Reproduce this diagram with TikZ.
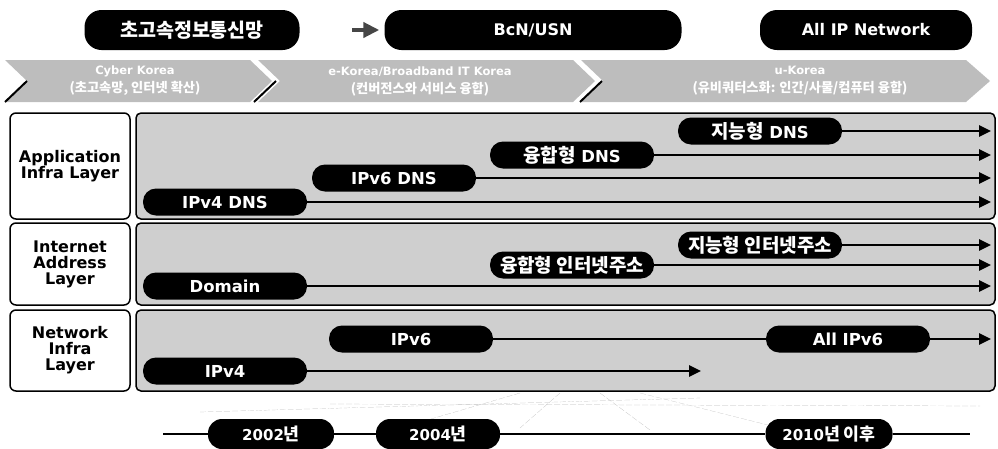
\documentclass[tikz,border=0pt]{standalone}
\usepackage{fontspec}
\setmainfont{DejaVu Sans}
\newfontfamily\kr{Noto Sans CJK KR}[Scale=1.15]
\usetikzlibrary{arrows.meta, positioning, calc}

\begin{document}
\begin{tikzpicture}[
    x=1pt, y=-1pt,
    toppill/.style={rectangle, fill=black, text=white, rounded corners=17pt, minimum height=40pt, font=\fontsize{16}{18}\selectfont\bfseries},
    pill/.style={rectangle, fill=black, text=white, rounded corners=13pt, minimum width=164pt, minimum height=27pt, inner sep=2pt, font=\fontsize{16.5}{18}\selectfont\bfseries},
    yearpill/.style={pill, minimum height=30pt, rounded corners=14pt, font=\fontsize{15}{17}\selectfont\bfseries},
    layerbox/.style={rectangle, draw=black, fill=white, line width=1.5pt, rounded corners=6pt, minimum width=120pt, inner sep=1pt, align=center, font=\fontsize{16}{16}\selectfont\bfseries},
    panelbox/.style={rectangle, draw=black, fill=gray!38, line width=1.5pt, rounded corners=5pt, minimum width=859pt},
    chevron/.style={fill=gray!52},
    chevlabel/.style={text=white, align=center, inner sep=0pt, font=\fontsize{11.5}{18}\selectfont\bfseries},
    flow/.style={line width=2.6pt, -{Triangle[length=12pt, width=11pt]}},
    grid/.style={gray!55, very thin, dash pattern=on 6pt off 2pt}
  ]
  \useasboundingbox (0,0) rectangle (998,448);

  % Top network stages
  \node[toppill, minimum width=215pt] (topKor) at (192,30) {\fontsize{17}{18}\selectfont\kr 초고속정보통신망};
  \node[toppill, minimum width=297pt] (topBcn) at (533,30) {BcN/USN};
  \node[toppill, minimum width=212pt] (topAllIP) at (866,30) {All IP Network};
  \coordinate (arrTail) at (352,30);
  \draw[line width=4pt, gray!55!black, -{Triangle[length=16pt, width=15pt]}] (arrTail) -- ([xshift=-5pt]topBcn.west);

  % Policy chevrons
  \fill[chevron] (5,60) -- (250,60) -- (272,81) -- (250,102) -- (5,102) -- (27,81) -- cycle;
  \fill[chevron] (258,60) -- (573,60) -- (595,81) -- (573,102) -- (258,102) -- (280,81) -- cycle;
  \fill[chevron] (581,60) -- (966,60) -- (990,81) -- (966,102) -- (581,102) -- (603,81) -- cycle;
  \draw[line width=2pt] (5,102) -- (27,81);
  \draw[line width=2pt] (254,102) -- (276,81);
  \draw[line width=2pt] (580,102) -- (602,81);
  \node[chevlabel] (chevOne) at (135,81) {Cyber Korea\\{\kr (초고속망, 인터넷 확산)}};
  \node[chevlabel] (chevTwo) at (420,81) {e-Korea/Broadband IT Korea\\{\kr (컨버전스와 서비스 융합)}};
  \node[chevlabel] (chevThree) at (800,81) {u-Korea\\{\kr (유비쿼터스화: 인간/사물/컴퓨터 융합)}};

  % Layer labels and panels
  \node[layerbox, minimum height=106pt] (labApp) at (70,166) {Application\\Infra Layer};
  \node[layerbox, minimum height=82pt] (labAddr) at (70,264) {Internet\\Address\\Layer};
  \node[layerbox, minimum height=81pt] (labNet) at (70,350.5) {Network\\Infra\\Layer};
  \node[panelbox, minimum height=106pt] (panApp) at (565.5,166) {};
  \node[panelbox, minimum height=82pt] (panAddr) at (565.5,264) {};
  \node[panelbox, minimum height=81pt] (panNet) at (565.5,350.5) {};
  \coordinate (arrowEnd) at (991,0);
  \coordinate (ipFourEnd) at (701,0);

  % Application infra layer
  \node[pill] (dnsFour) at (225,202) {IPv4 DNS};
  \node[pill] (dnsSix) at (394,178) {IPv6 DNS};
  \node[pill] (dnsConv) at (572,155) {{\kr 융합형} DNS};
  \node[pill] (dnsIntel) at (760,131) {{\kr 지능형} DNS};
  \draw[flow] (dnsFour.east) -- (dnsFour.east -| arrowEnd);
  \draw[flow] (dnsSix.east) -- (dnsSix.east -| arrowEnd);
  \draw[flow] (dnsConv.east) -- (dnsConv.east -| arrowEnd);
  \draw[flow] (dnsIntel.east) -- (dnsIntel.east -| arrowEnd);

  % Internet address layer
  \node[pill] (domain) at (225,286) {Domain};
  \node[pill] (addrConv) at (572,265) {\kr 융합형 인터넷주소};
  \node[pill] (addrIntel) at (760,245) {\kr 지능형 인터넷주소};
  \draw[flow] (domain.east) -- (domain.east -| arrowEnd);
  \draw[flow] (addrConv.east) -- (addrConv.east -| arrowEnd);
  \draw[flow] (addrIntel.east) -- (addrIntel.east -| arrowEnd);

  % Network infra layer
  \node[pill] (ipFour) at (225,371) {IPv4};
  \node[pill] (ipSix) at (411,339) {IPv6};
  \node[pill] (allSix) at (848,339) {All IPv6};
  \draw[flow] (ipFour.east) -- (ipFour.east -| ipFourEnd);
  \draw[line width=2.6pt] (ipSix.east) -- (allSix.west);
  \draw[flow] (allSix.east) -- (allSix.east -| arrowEnd);

  % Floor grid
  \draw[grid] (200,412) -- (700,398);
  \draw[grid] (330,404) -- (980,406);
  \draw[grid] (560,393) -- (520,428);
  \draw[grid] (600,393) -- (650,430);
  \draw[grid] (640,393) -- (780,428);
  \draw[grid] (520,393) -- (400,428);

  % Timeline
  \coordinate (tlStart) at (163,434);
  \coordinate (tlEnd) at (970,434);
  \node[yearpill, minimum width=126pt] (yrTwo) at (271,434) {2002{\kr 년}};
  \node[yearpill, minimum width=124pt] (yrFour) at (438,434) {2004{\kr 년}};
  \node[yearpill, minimum width=127pt] (yrTen) at (829,434) {2010{\kr 년 이후}};
  \draw[line width=2pt] (tlStart) -- (yrTwo.west) (yrTwo.east) -- (yrFour.west) (yrFour.east) -- (yrTen.west) (yrTen.east) -- (tlEnd);
\end{tikzpicture}
\end{document}
